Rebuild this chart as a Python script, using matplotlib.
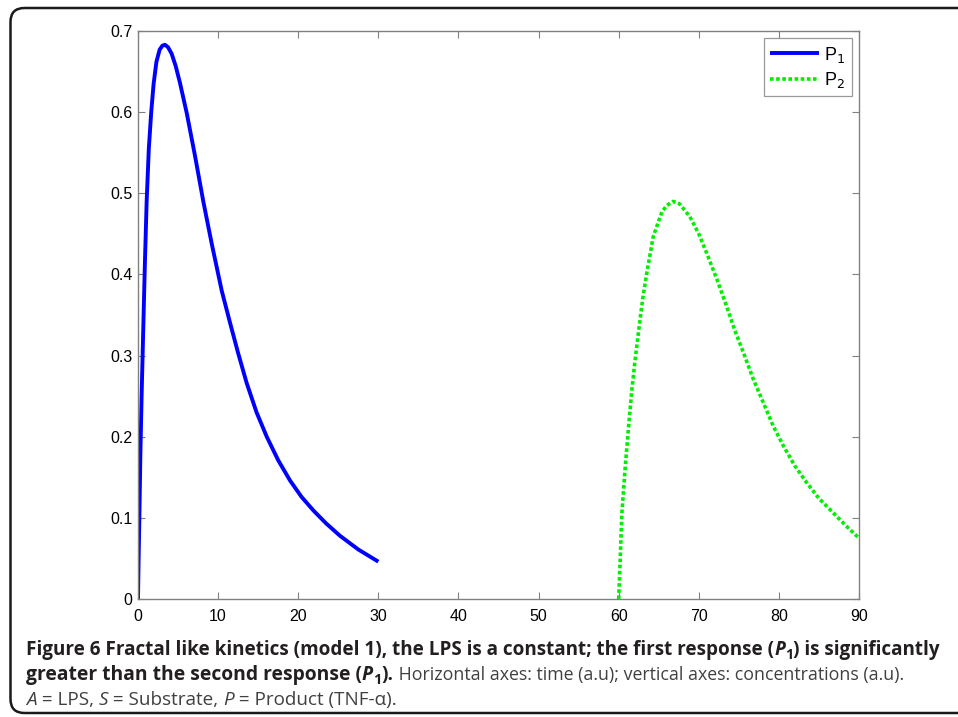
import matplotlib
matplotlib.use('Agg')
import matplotlib.pyplot as plt
from matplotlib.patches import FancyBboxPatch
from matplotlib.transforms import IdentityTransform

# ============================================================
# DATA
# ============================================================

P1_T = [0, 0.08, 0.17, 0.3, 0.45, 0.65, 0.85, 1.08, 1.35, 1.65, 1.95, 2.3,
        2.7, 3.05, 3.37, 3.75, 4.2, 4.7, 5.24, 6.08, 7.1, 8.15, 9.2, 10.45,
        11.5, 12.5, 13.57, 14.8, 16.07, 17.5, 18.98, 20.4, 21.9, 23.5, 25.2,
        27.5, 30.0]
P1_Y = [0, 0.05, 0.10, 0.18, 0.25, 0.33, 0.41, 0.49, 0.555, 0.60, 0.635, 0.662,
        0.677, 0.682, 0.683, 0.680, 0.672, 0.657, 0.636, 0.599, 0.547, 0.490,
        0.438, 0.380, 0.340, 0.303, 0.266, 0.230, 0.200, 0.171, 0.146, 0.126,
        0.109, 0.093, 0.078, 0.061, 0.046]

P2_T = [60.0, 60.2, 60.4, 60.8, 61.2, 61.6, 62.0, 62.5, 63.0, 63.5, 64.3, 65.0,
        65.4, 66.0, 66.8, 67.6, 68.9, 70.0, 71.0, 72.3, 73.5, 74.5, 75.6, 76.8,
        78.1, 79.3, 80.6, 82.0, 83.5, 85.0, 86.8, 88.4, 90.0]
P2_Y = [0, 0.05, 0.106, 0.16, 0.208, 0.253, 0.29, 0.331, 0.37, 0.401, 0.446,
        0.466, 0.477, 0.485, 0.490, 0.487, 0.471, 0.450, 0.426, 0.393, 0.360,
        0.331, 0.303, 0.271, 0.241, 0.213, 0.188, 0.164, 0.143, 0.124, 0.106,
        0.090, 0.075]

X_TICKS = [0, 10, 20, 30, 40, 50, 60, 70, 80, 90]
Y_TICKS = [0, 0.1, 0.2, 0.3, 0.4, 0.5, 0.6, 0.7]
Y_TICKLABELS = ['0', '0.1', '0.2', '0.3', '0.4', '0.5', '0.6', '0.7']

LEGEND_LABELS = [r'P$_1$', r'P$_2$']

# caption: list of lines, each a list of (text, weight, style, subscript, size)
CAPTION = [
    [('Figure 6 Fractal like kinetics (model 1), the LPS is a constant; the first response (', 'bold', 'normal', False, 13.6),
     ('P', 'bold', 'italic', False, 13.6), ('1', 'bold', 'normal', True, 13.6),
     (') is significantly', 'bold', 'normal', False, 13.6)],
    [('greater than the second response (', 'bold', 'normal', False, 13.9),
     ('P', 'bold', 'italic', False, 13.9), ('1', 'bold', 'normal', True, 13.9),
     (').', 'bold', 'normal', False, 13.9),
     (' Horizontal axes: time (a.u); vertical axes: concentrations (a.u).', 'normal', 'normal', False, 12.8)],
    [('A', 'normal', 'italic', False, 13.6), (' = LPS, ', 'normal', 'normal', False, 13.6),
     ('S', 'normal', 'italic', False, 13.6), (' = Substrate, ', 'normal', 'normal', False, 13.6),
     ('P', 'normal', 'italic', False, 13.6), (' = Product (TNF-α).', 'normal', 'normal', False, 13.6)],
]

# ============================================================
# FIGURE
# ============================================================

W, H = 958, 717
fig = plt.figure(figsize=(W / 100, H / 100), dpi=100)
fig.patch.set_facecolor('white')

ax = fig.add_axes([138 / W, 1 - 599 / H, (859 - 138) / W, (599 - 31) / H])

ax.plot(P1_T, P1_Y, color='#0000ff', lw=2.8, solid_capstyle='butt',
        solid_joinstyle='round', label=LEGEND_LABELS[0])
ax.plot(P2_T, P2_Y, color='#00ee00', lw=2.6, linestyle=(0, (1, 0.7)), label=LEGEND_LABELS[1])

ax.set_xlim(0, 90)
ax.set_ylim(0, 0.7)
ax.set_xticks(X_TICKS)
ax.set_yticks(Y_TICKS)
ax.set_yticklabels(Y_TICKLABELS)

GRAY = '#808080'
for s in ax.spines.values():
    s.set_color(GRAY)
    s.set_linewidth(1.0)
ax.tick_params(direction='in', length=5, width=0.8, color=GRAY,
               top=True, right=True, labelsize=11.5)
ax.tick_params(axis='x', pad=7)
ax.tick_params(axis='y', pad=4)
for lab in ax.get_xticklabels() + ax.get_yticklabels():
    lab.set_fontfamily('Liberation Sans')

leg = ax.legend(loc='upper right', fancybox=False, edgecolor=GRAY,
                prop={'family': 'Liberation Sans', 'size': 13},
                handlelength=2.7, borderaxespad=0.4, labelspacing=0.3,
                handletextpad=0.3, borderpad=0.35)
leg.get_frame().set_linewidth(0.9)

# outer rounded frame
frame = FancyBboxPatch((10.5, H - 713), 990, 713 - 8, boxstyle='round,pad=0,rounding_size=14',
                       transform=IdentityTransform(), fill=False, edgecolor='#1a1a1a',
                       linewidth=1.8, zorder=0)
fig.patches.append(frame)

# ============================================================
# CAPTION  (runs of mixed weight / style)
# ============================================================

renderer = fig.canvas.get_renderer()
BASELINES = [655, 680, 705]
for line, base in zip(CAPTION, BASELINES):
    x = 26
    for text, weight, style, sub, cap_size in line:
        size = cap_size * 0.75 if sub else cap_size
        y = base + (4 if sub else 0)
        color = '#231f20' if weight == 'bold' else '#404040'
        t = fig.text(x / W, 1 - y / H, text, fontsize=size, fontweight=weight,
                     fontstyle=style, family='Open Sans', color=color, va='baseline')
        bb = t.get_window_extent(renderer)
        x += bb.width

fig.savefig('out.png', dpi=100)
